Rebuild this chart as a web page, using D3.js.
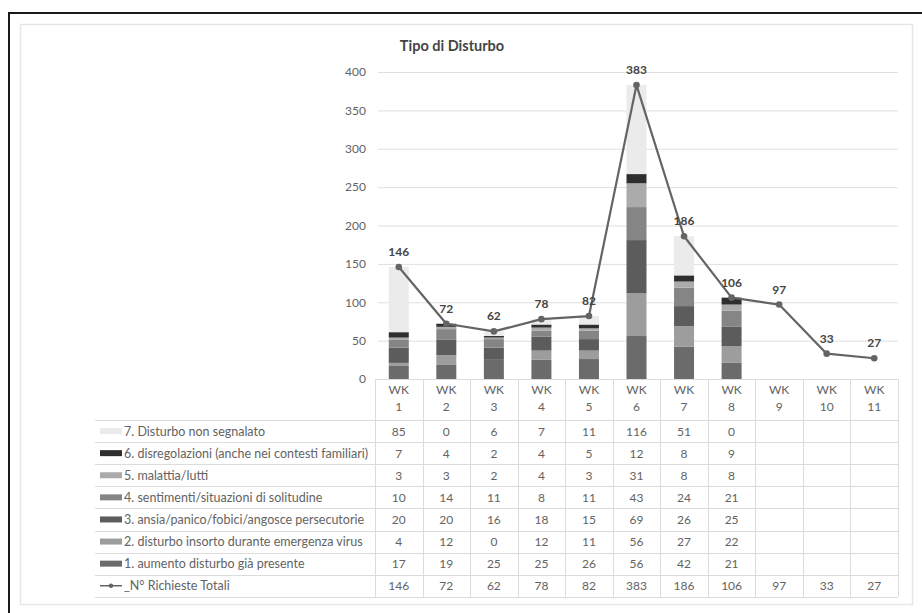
<!DOCTYPE html>
<html>
<head>
<meta charset="utf-8">
<script src="https://cdn.jsdelivr.net/npm/d3@7"></script>
<style>
  html, body { margin: 0; padding: 0; background: #fff; }
  svg { display: block; }
  text { font-family: Lato, "Noto Sans", sans-serif; }
</style>
</head>
<body>
<script>
// Weeks and stacked disturbance categories (first 8 weeks have a breakdown)
const weeks = ["1","2","3","4","5","6","7","8","9","10","11"];
const seriesNames = [
  "1. aumento disturbo già presente",
  "2. disturbo insorto durante emergenza virus",
  "3. ansia/panico/fobici/angosce persecutorie",
  "4. sentimenti/situazioni di solitudine",
  "5. malattia/lutti",
  "6. disregolazioni (anche nei contesti familiari)",
  "7. Disturbo non segnalato"
];
const s1 = [17, 19, 25, 25, 26, 56, 42, 21];
const s2 = [4, 12, 0, 12, 11, 56, 27, 22];
const s3 = [20, 20, 16, 18, 15, 69, 26, 25];
const s4 = [10, 14, 11, 8, 11, 43, 24, 21];
const s5 = [3, 3, 2, 4, 3, 31, 8, 8];
const s6 = [7, 4, 2, 4, 5, 12, 8, 9];
const s7 = [85, 0, 6, 7, 11, 116, 51, 0];
const totals = [146, 72, 62, 78, 82, 383, 186, 106, 97, 33, 27];
const totalName = "_N° Richieste Totali";
const yTicks = [0, 50, 100, 150, 200, 250, 300, 350, 400];
const chartTitle = "Tipo di Disturbo";

const seriesValues = [s1, s2, s3, s4, s5, s6, s7];
const seriesColors = ["#6b6b6b", "#9d9d9d", "#5c5c5c", "#858585", "#ababab", "#2e2e2e", "#ebebeb"];
const textColor = "#636363";

const W = 922, H = 613;
const svg = d3.select("body").append("svg").attr("width", W).attr("height", H);

// Frames
svg.append("rect").attr("x", 9).attr("y", 13).attr("width", W + 10).attr("height", H + 10)
  .attr("fill", "#fff").attr("stroke", "#1a1a1a").attr("stroke-width", 2);
svg.append("rect").attr("x", 20.5).attr("y", 24.5).attr("width", 892).attr("height", 580)
  .attr("fill", "#fff").attr("stroke", "#e6e6e6").attr("stroke-width", 1.5);

// Scales
const x = d3.scaleBand().domain(weeks).range([375, 898]).paddingInner(0).paddingOuter(0);
const y = d3.scaleLinear().domain([0, 400]).range([379, 72]);
const barW = 20;

// Title
svg.append("text").attr("x", 452).attr("y", 51).attr("text-anchor", "middle")
  .attr("font-size", 14.5).attr("font-weight", "bold").attr("fill", "#454545").text(chartTitle);

// Gridlines + y axis labels
const yAxis = d3.axisLeft(y).tickValues(yTicks).tickSize(-(898 - 378)).tickPadding(12);
const gy = svg.append("g").attr("transform", "translate(378,0)").call(yAxis);
gy.select(".domain").remove();
gy.selectAll(".tick line").attr("stroke", "#e0e0e0").attr("stroke-width", 1);
gy.selectAll(".tick text").attr("font-size", 12).attr("fill", textColor)
  .style("font-family", "Lato, 'Noto Sans', sans-serif");

// Stacked bars
const stackRows = weeks.slice(0, 8).map((w, i) => {
  const o = { week: w };
  seriesValues.forEach((arr, k) => { o["k" + k] = arr[i]; });
  return o;
});
const stack = d3.stack().keys(seriesValues.map((_, k) => "k" + k))(stackRows);
stack.forEach((layer, k) => {
  svg.append("g").selectAll("rect").data(layer).join("rect")
    .attr("x", d => x(d.data.week) + x.bandwidth() / 2 - barW / 2)
    .attr("width", barW)
    .attr("y", d => y(d[1]))
    .attr("height", d => y(d[0]) - y(d[1]))
    .attr("fill", seriesColors[k]);
});

// Total line
const line = d3.line().x((d, i) => x(weeks[i]) + x.bandwidth() / 2).y(d => y(d));
svg.append("path").datum(totals).attr("d", line).attr("fill", "none")
  .attr("stroke", "#646464").attr("stroke-width", 2.2).attr("stroke-linejoin", "round");
svg.append("g").selectAll("circle").data(totals).join("circle")
  .attr("cx", (d, i) => x(weeks[i]) + x.bandwidth() / 2).attr("cy", d => y(d)).attr("r", 3.3)
  .attr("fill", "#646464");
svg.append("g").selectAll("text").data(totals).join("text")
  .attr("x", (d, i) => x(weeks[i]) + x.bandwidth() / 2).attr("y", d => y(d) - 11)
  .attr("text-anchor", "middle").attr("font-size", 12).attr("font-weight", "bold")
  .attr("fill", "#454545").text(d => d);

// Data table
const tableLeft = 95, tableRight = 898, headTop = 379, headBottom = 420, rowH = 22.1;
const rows = [];
for (let k = 6; k >= 0; k--) rows.push({ name: seriesNames[k], vals: seriesValues[k], color: seriesColors[k], type: "bar" });
rows.push({ name: totalName, vals: totals, type: "line" });
const tableBottom = headBottom + rows.length * rowH;

const grid = svg.append("g").attr("stroke", "#dcdcdc").attr("stroke-width", 1);
// axis baseline
grid.append("line").attr("x1", 375).attr("x2", tableRight).attr("y1", headTop + 0.5).attr("y2", headTop + 0.5);
// horizontal row lines
for (let r = 0; r <= rows.length; r++) {
  const yy = Math.round(headBottom + r * rowH) + 0.5;
  grid.append("line").attr("x1", tableLeft).attr("x2", tableRight).attr("y1", yy).attr("y2", yy);
}
// vertical column lines
weeks.forEach((w, i) => {
  const xx = Math.round(x(w)) + 0.5;
  grid.append("line").attr("x1", xx).attr("x2", xx).attr("y1", headTop).attr("y2", tableBottom);
});
grid.append("line").attr("x1", tableRight + 0.5).attr("x2", tableRight + 0.5).attr("y1", headTop).attr("y2", tableBottom);

// header labels
const head = svg.append("g").attr("font-size", 12).attr("fill", textColor).attr("text-anchor", "middle");
weeks.forEach(w => {
  const cx = x(w) + x.bandwidth() / 2;
  head.append("text").attr("x", cx).attr("y", 394).text("WK");
  head.append("text").attr("x", cx).attr("y", 411).text(w);
});

// rows
rows.forEach((row, r) => {
  const cy = headBottom + r * rowH + rowH / 2;
  const g = svg.append("g");
  if (row.type === "bar") {
    g.append("rect").attr("x", 100).attr("y", cy - 3).attr("width", 22).attr("height", 6).attr("fill", row.color);
  } else {
    g.append("line").attr("x1", 100).attr("x2", 122).attr("y1", cy).attr("y2", cy)
      .attr("stroke", "#646464").attr("stroke-width", 1.5);
    g.append("circle").attr("cx", 111).attr("cy", cy).attr("r", 2.2).attr("fill", "#646464");
  }
  g.append("text").attr("x", 124).attr("y", cy + 4.5).attr("font-size", 12.5).attr("fill", textColor).text(row.name);
  g.selectAll("text.v").data(row.vals).join("text").attr("class", "v")
    .attr("x", (d, i) => x(weeks[i]) + x.bandwidth() / 2).attr("y", cy + 4.5)
    .attr("text-anchor", "middle").attr("font-size", 12).attr("fill", textColor).text(d => d);
});
</script>
</body>
</html>
